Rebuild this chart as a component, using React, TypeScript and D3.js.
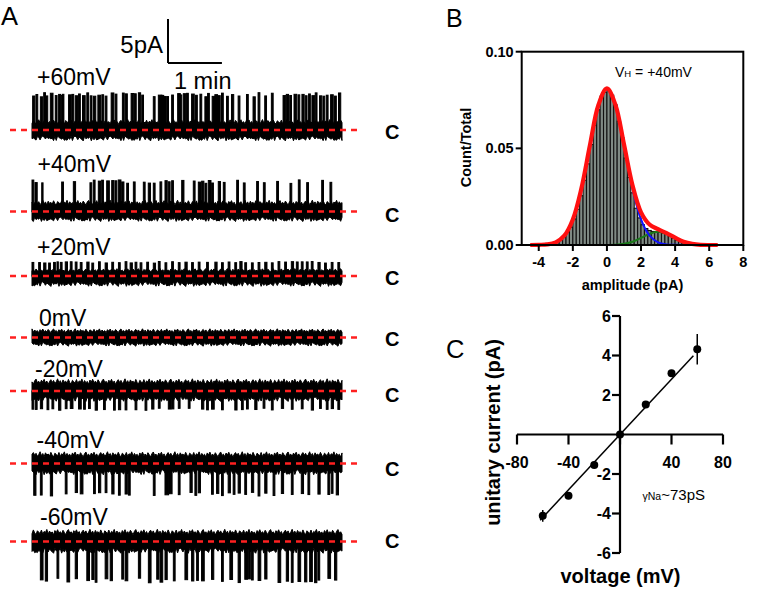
import React from "react";
import * as d3 from "d3";

// ---------------- Panel A : single-channel traces ----------------
const TRACE_LABELS = ["+60mV", "+40mV", "+20mV", "0mV", "-20mV", "-40mV", "-60mV"];
const TRACE_VOLTAGES = [60, 40, 20, 0, -20, -40, -60];
// level reached by the tips of the openings (pA)
const TRACE_PEAK = [4.25, 3.6, 1.65, 0, -2.2, -3.7, -4.7];
// half-width of the closed-state noise band (pA)
const TRACE_NOISE_UP = [1.2, 1.3, 0.85, 1.0, 1.4, 1.35, 1.4];
const TRACE_NOISE_DOWN = [1.25, 1.15, 1.2, 1.0, 1.2, 1.3, 1.35];
const TRACE_DURATION_S = 345;
const SCALE_BAR_PA = 5;
const SCALE_BAR_S = 60;
// closed-state noise pattern (relative)
const NOISE = [0.62, 0.91, 0.74, 0.55, 0.83, 0.97, 0.68, 0.79, 0.58, 0.88, 0.72, 0.95, 0.64, 0.81, 0.53, 0.77, 0.92, 0.69, 0.86, 0.6, 0.75, 0.99, 0.66, 0.84, 0.57, 0.9, 0.71, 0.8, 0.63, 0.94, 0.7, 0.56, 0.87, 0.76, 0.65, 0.93, 0.59, 0.82, 0.73, 0.98, 0.61, 0.85, 0.67, 0.78, 0.54, 0.89, 0.72, 0.96, 0.66, 0.8];

// openings: [time (s), duration (s)]
const EVENTS_P60 = [[0.7, 2.5], [4.4, 2], [9.3, 2.5], [13, 2], [15.5, 2], [20.4, 3], [25.9, 2], [29.6, 2.5], [32.6, 2], [34, 1.5], [40.7, 3], [44.4, 2], [48.1, 2.5], [51.8, 2], [56.2, 3], [61, 2], [64.8, 2], [68.5, 2.5], [73.3, 3], [77.7, 2], [81.4, 2], [88.1, 3], [92.5, 2], [100.6, 2], [103.6, 2.5], [110.3, 3], [114, 2], [118.4, 2.5], [122.1, 2], [135, 2], [140.6, 4], [143.6, 3], [146.2, 3], [149.9, 2], [155.4, 2], [162.1, 3], [164.7, 2], [168.4, 2.5], [172, 2], [177.6, 3], [182, 2], [186.9, 2], [192.4, 3], [195.4, 2], [200.5, 4], [203.5, 3], [206.5, 3], [210.9, 2], [216.5, 2], [222, 2.5], [229.4, 2], [238.7, 2], [246, 2.5], [251.6, 2], [259, 2], [266.4, 2], [279.4, 3], [283, 2.5], [286.8, 2], [291.6, 3], [296, 2], [300.4, 2.5], [304.1, 2], [307.8, 2], [311.5, 3], [315.2, 2], [320, 2.5], [323.8, 2], [327.5, 2], [332.3, 3], [336.7, 2], [341.1, 2.5]];
const EVENTS_P40 = [[0, 2], [3.3, 2.5], [10.8, 1.5], [33, 2], [46, 2.5], [64.5, 2], [68.2, 2], [73.8, 2.5], [77.5, 2], [83.1, 3], [88.7, 2.5], [92.4, 2], [96, 3], [99.8, 2.5], [105.4, 2], [112.8, 2], [123.9, 2], [129.4, 2.5], [135, 2], [142.4, 2], [148, 2.5], [151.7, 2], [155.4, 2], [166.6, 2.5], [179.5, 2], [185.1, 3], [188.8, 2.5], [192.5, 2], [196.2, 3], [199.9, 2], [207.3, 2.5], [212.9, 2], [227.8, 2], [235.2, 2], [250, 2], [257.5, 2], [272.3, 2], [287.1, 2], [296.4, 2], [305.7, 2], [322.4, 2], [331.6, 2]];
const EVENTS_P20 = [[0, 2], [7.4, 2], [13, 2.5], [18.5, 2], [24, 2], [27.8, 1.5], [31.5, 2], [37, 2.5], [42.6, 2], [48.1, 2], [53.7, 2], [61, 2.5], [66.6, 2], [74, 2], [81.4, 2.5], [88.8, 2], [96.2, 2], [103.6, 2], [109.2, 2.5], [114.7, 2], [120.3, 2], [127.7, 2], [135, 2.5], [140.6, 2], [148, 2], [155.4, 2], [162.8, 2], [170.2, 2.5], [177.6, 2], [185, 2], [194.3, 2], [203.5, 2.5], [210.9, 2], [218.3, 2], [225.7, 2], [231.3, 2.5], [236.8, 2], [244.2, 2], [251.6, 2], [259, 2.5], [266.4, 2], [273.8, 2], [281.2, 2], [288.6, 2.5], [294.2, 2], [299.7, 2], [305.3, 2], [310.8, 2], [318.2, 2.5], [325.6, 2], [333, 2], [340.4, 2]];
const EVENTS_0: number[][] = [];
const EVENTS_M20 = [[0, 2], [3.7, 2], [9.3, 2.5], [16.7, 2], [22.2, 2], [29.6, 2.5], [37, 2], [42.6, 3], [51.8, 3], [57.4, 2], [62.9, 2], [70.3, 2.5], [79.6, 2], [90.7, 2], [96.2, 2.5], [103.6, 2], [114.7, 2], [125.8, 2], [133.2, 2.5], [140.6, 2], [151.7, 3], [155.4, 2.5], [162.8, 2], [173.9, 2], [188.7, 2.5], [194.3, 2], [199.8, 3], [210.9, 2], [225.7, 2.5], [233.1, 2], [238.7, 2], [247.9, 2.5], [257.2, 2], [266.4, 2], [277.5, 2.5], [288.6, 2], [299.7, 2], [310.8, 2.5], [320, 2], [327.5, 2], [333, 2.5], [340.4, 2]];
const EVENTS_M40 = [[1.9, 2.5], [9.3, 2], [20.4, 2.5], [37, 2], [48.1, 2.5], [53.7, 3], [68.5, 2], [74, 2.5], [81.4, 2], [88.8, 2.5], [96.2, 2], [103.6, 2.5], [107.3, 2], [135, 2], [148, 4], [152.4, 3.5], [162.8, 2], [175.8, 2.5], [181.3, 2], [185, 2.5], [199.8, 2], [205.4, 2.5], [210.9, 2], [218.3, 2.5], [223.9, 2], [229.4, 2.5], [236.8, 2], [244.2, 2.5], [251.6, 2], [259, 2.5], [268.3, 2], [277.5, 2.5], [288.6, 2], [299.7, 2.5], [307.1, 2], [318.2, 2.5], [329.3, 2], [333, 2], [338.6, 2.5]];
const EVENTS_M60 = [[9.3, 3], [14.8, 2.5], [27.8, 2], [38.9, 3], [48.1, 2.5], [61, 3], [66.6, 2.5], [70.3, 2], [81.4, 3], [87, 2.5], [99.9, 2], [103.6, 3], [118.4, 2.5], [129.5, 3], [138.8, 2.5], [142.5, 3], [148, 2.5], [157.3, 2], [170.2, 3], [177.6, 2.5], [183.2, 2], [188.7, 3], [199.8, 2.5], [210.9, 2], [220.2, 3], [229.4, 2.5], [236.8, 3], [240.5, 2.5], [244.2, 2], [251.6, 3], [259, 2.5], [273.8, 3], [283, 2.5], [288.6, 2], [296, 3], [303.4, 2.5], [309, 3], [314.5, 2.5], [318.2, 2], [329.3, 3], [336.7, 2.5]];
const TRACE_EVENTS = [EVENTS_P60, EVENTS_P40, EVENTS_P20, EVENTS_0, EVENTS_M20, EVENTS_M40, EVENTS_M60];

// ---------------- Panel B : amplitude histogram (VH = +40 mV) ----------------
const HIST_BIN_START = -4.4;
const HIST_BIN_WIDTH = 0.2;
const HIST_VALUES = [0.0004, 0.0004, 0.0005, 0.0006, 0.0008, 0.001, 0.0013, 0.0018, 0.0025, 0.004, 0.0065, 0.0092, 0.0135, 0.0185, 0.0255, 0.0335, 0.042, 0.052, 0.062, 0.07, 0.077, 0.079, 0.08, 0.0775, 0.0725, 0.064, 0.0555, 0.045, 0.035, 0.027, 0.019, 0.014, 0.0105, 0.0085, 0.0075, 0.007, 0.0068, 0.0065, 0.006, 0.0055, 0.0045, 0.0035, 0.0025, 0.0018, 0.0012, 0.0008, 0.0006, 0.0004, 0.0003, 0.0003, 0.0002, 0.0002, 0.0002, 0.0002, 0.0002];
const FIT_X = [-4.5, -4, -3.5, -3, -2.5, -2, -1.5, -1, -0.5, 0, 0.5, 1, 1.5, 2, 2.5, 3, 3.5, 4, 4.5, 5, 5.5, 6, 6.5];
const FIT_CLOSED = [0, 0.0001, 0.0003, 0.0014, 0.0048, 0.0132, 0.0292, 0.0515, 0.0724, 0.081, 0.0724, 0.0515, 0.0292, 0.0132, 0.0048, 0.0014, 0.0003, 0.0001, 0, 0, 0, 0, 0];
const FIT_OPEN = [0, 0, 0, 0, 0, 0, 0, 0, 0, 0, 0.0001, 0.0006, 0.0017, 0.0037, 0.0058, 0.0068, 0.0058, 0.0037, 0.0017, 0.0006, 0.0001, 0, 0];
const FIT_SUM = [0, 0.0001, 0.0003, 0.0014, 0.0048, 0.0132, 0.0292, 0.0515, 0.0724, 0.081, 0.0725, 0.0521, 0.0309, 0.0169, 0.0106, 0.0082, 0.0061, 0.0038, 0.0017, 0.0006, 0.0001, 0, 0];
const HIST_X_TICKS = [-4, -2, 0, 2, 4, 6, 8];
const HIST_Y_TICKS = [0, 0.05, 0.1];

// ---------------- Panel C : I-V relation ----------------
const IV_V = [-60, -40, -20, 0, 20, 40, 60];
const IV_I = [-4.12, -3.1, -1.55, 0, 1.52, 3.1, 4.32];
const IV_ERR = [0.3, 0.08, 0.08, 0, 0.08, 0.08, 0.77];
const IV_FIT_V = [-62, 57];
const IV_FIT_I = [-4.34, 3.99];
const IV_X_TICKS = [-80, -40, 40, 80];
const IV_X_TICK_MARKS = [-80, -40, 0, 40, 80];
const IV_Y_TICKS = [-6, -4, -2, 2, 4, 6];

const FONT = "'Liberation Sans', Arial, Helvetica, sans-serif";

export default function App() {
  // ---------- Panel A ----------
  const xT = d3.scaleLinear().domain([0, TRACE_DURATION_S]).range([32, 342]);
  const pxPerPA = 8.8;
  const baselines = [130, 211.5, 276, 337.5, 391, 463.5, 541.5];
  const labelY = [85, 171.5, 254.5, 326, 376.5, 448, 525];
  const labelX = [37, 37.5, 37, 39, 35, 36.5, 40];
  const cLabelY = [138.5, 221.5, 285, 346, 402, 476, 548];

  const traces = TRACE_LABELS.map((lab, k) => {
    const base = baselines[k];
    const yS = d3.scaleLinear().domain([-1, 1]).range([base + pxPerPA, base - pxPerPA]);
    const steps = d3.range(0, TRACE_DURATION_S + 0.001, 1.5);
    const band = d3
      .area<number>()
      .x((t) => xT(t))
      .y0((t, i) => yS(-TRACE_NOISE_DOWN[k] * NOISE[(i * 3 + 7 + k * 11) % NOISE.length]))
      .y1((t, i) => yS(TRACE_NOISE_UP[k] * NOISE[(i + 13 * k) % NOISE.length]))(steps);
    const peak = TRACE_PEAK[k];
    const rects = TRACE_EVENTS[k].map(([t, d], j) => {
      const tip = peak * (0.76 + 0.24 * NOISE[(j * 7 + k * 5) % NOISE.length]);
      const y0 = yS(0);
      const y1 = yS(tip);
      const x0 = xT(t);
      const w = Math.max(1.3, xT(t + d) - xT(t));
      return (
        <rect key={j} x={x0} width={w} y={Math.min(y0, y1)} height={Math.abs(y1 - y0)} fill="#000" stroke="#000" strokeWidth={1} />
      );
    });
    return (
      <g key={lab}>
        <path d={band || ""} fill="#000" stroke="#000" strokeWidth={1} />
        {rects}
        <line x1={10} x2={358} y1={yS(0)} y2={yS(0)} stroke="#ff2020" strokeWidth={2.4} strokeDasharray="6,5" />
        <text x={labelX[k]} y={labelY[k]} fontSize={23} fontFamily={FONT} fill="#000">{lab}</text>
        <text x={385} y={cLabelY[k]} fontSize={20} fontWeight="bold" fontFamily={FONT} fill="#000">C</text>
      </g>
    );
  });

  const sbX = 168;
  const sbY = 63;
  const sbH = SCALE_BAR_PA * pxPerPA;
  const sbW = xT(SCALE_BAR_S) - xT(0);

  // ---------- Panel B ----------
  const xB = d3.scaleLinear().domain([-5, 8]).range([521.7, 743.3]);
  const yB = d3.scaleLinear().domain([0, 0.1]).range([245, 51.7]);
  const fitLine = (ys: number[]) =>
    d3
      .line<number>()
      .x((_, i) => xB(FIT_X[i]))
      .y((v) => yB(v))
      .curve(d3.curveCatmullRom)(ys) || "";

  // ---------- Panel C ----------
  const xC = d3.scaleLinear().domain([-80, 80]).range([517, 723]);
  const yC = d3.scaleLinear().domain([-6, 6]).range([553, 316]);

  return (
    <svg
      width={765}
      height={606}
      viewBox="0 0 765 606"
      style={{ position: "absolute", left: 0, top: 0, display: "block", background: "#fff" }}
    >
      <rect x={0} y={0} width={765} height={606} fill="#fff" />
      {/* Panel A */}
      <text x={1} y={25} fontSize={25.5} fontFamily={FONT}>A</text>
      <line x1={sbX} x2={sbX} y1={sbY - sbH} y2={sbY} stroke="#000" strokeWidth={2} />
      <line x1={sbX} x2={sbX + sbW} y1={sbY} y2={sbY} stroke="#000" strokeWidth={2} />
      <text x={163} y={53} fontSize={24} fontFamily={FONT} textAnchor="end">{SCALE_BAR_PA}pA</text>
      <text x={174} y={88.5} fontSize={23.5} fontFamily={FONT}>{SCALE_BAR_S / 60} min</text>
      {traces}

      {/* Panel B */}
      <text x={446} y={27} fontSize={25} fontFamily={FONT}>B</text>
      <g>
        {HIST_VALUES.map((v, i) => {
          const c0 = HIST_BIN_START + i * HIST_BIN_WIDTH;
          const x0 = xB(c0);
          const x1 = xB(c0 + HIST_BIN_WIDTH);
          return (
            <rect key={i} x={x0} width={x1 - x0} y={yB(v)} height={yB(0) - yB(v)} fill="#7f8a84" stroke="#111" strokeWidth={1.1} />
          );
        })}
        <path d={fitLine(FIT_OPEN)} fill="none" stroke="#1b7a1b" strokeWidth={2} />
        <path d={fitLine(FIT_CLOSED)} fill="none" stroke="#1010ff" strokeWidth={2} />
        <path d={fitLine(FIT_SUM)} fill="none" stroke="#ff1010" strokeWidth={4.2} strokeLinejoin="round" />
        <rect x={xB(-5)} y={yB(0.1)} width={xB(8) - xB(-5)} height={yB(0) - yB(0.1)} fill="none" stroke="#000" strokeWidth={2} />
        {HIST_Y_TICKS.map((t) => (
          <g key={t}>
            <line x1={xB(-5) - 6} x2={xB(-5)} y1={yB(t)} y2={yB(t)} stroke="#000" strokeWidth={2} />
            <text x={xB(-5) - 8} y={yB(t) + 5} fontSize={14.5} fontWeight="bold" fontFamily={FONT} textAnchor="end">
              {t.toFixed(2)}
            </text>
          </g>
        ))}
        {HIST_X_TICKS.map((t) => (
          <g key={t}>
            <line x1={xB(t)} x2={xB(t)} y1={yB(0)} y2={yB(0) + 6} stroke="#000" strokeWidth={2} />
            <text x={xB(t)} y={267} fontSize={14.5} fontWeight="bold" fontFamily={FONT} textAnchor="middle">
              {t}
            </text>
          </g>
        ))}
        <text x={632.5} y={290} fontSize={14.5} fontWeight="bold" fontFamily={FONT} textAnchor="middle">amplitude (pA)</text>
        <text transform="translate(471,147.5) rotate(-90)" fontSize={14.5} fontWeight="bold" fontFamily={FONT} textAnchor="middle">Count/Total</text>
        <text x={615} y={77} fontSize={14} fontFamily={FONT}>
          V<tspan fontSize={9.5}>H</tspan> = +40mV
        </text>
      </g>

      {/* Panel C */}
      <text x={446} y={358} fontSize={25.5} fontFamily={FONT}>C</text>
      <g>
        <line x1={xC(-80)} x2={xC(80)} y1={yC(0)} y2={yC(0)} stroke="#000" strokeWidth={2.2} />
        <line x1={xC(0)} x2={xC(0)} y1={yC(-6)} y2={yC(6)} stroke="#000" strokeWidth={2.2} />
        {IV_X_TICK_MARKS.map((t) => (
          <line key={t} x1={xC(t)} x2={xC(t)} y1={yC(0)} y2={yC(0) + 10} stroke="#000" strokeWidth={2.2} />
        ))}
        {IV_X_TICKS.map((t) => (
          <text key={t} x={xC(t)} y={468} fontSize={16} fontWeight="bold" fontFamily={FONT} textAnchor="middle">{t}</text>
        ))}
        {IV_Y_TICKS.map((t) => (
          <g key={t}>
            <line x1={xC(0) - 8} x2={xC(0)} y1={yC(t)} y2={yC(t)} stroke="#000" strokeWidth={2.2} />
            <text x={xC(0) - 9} y={yC(t) + 5.5} fontSize={16} fontWeight="bold" fontFamily={FONT} textAnchor="end">{t}</text>
          </g>
        ))}
        <line x1={xC(IV_FIT_V[0])} x2={xC(IV_FIT_V[1])} y1={yC(IV_FIT_I[0])} y2={yC(IV_FIT_I[1])} stroke="#000" strokeWidth={1.5} />
        {IV_V.map((v, i) => (
          <g key={v}>
            {IV_ERR[i] > 0 && (
              <line x1={xC(v)} x2={xC(v)} y1={yC(IV_I[i] - IV_ERR[i])} y2={yC(IV_I[i] + IV_ERR[i])} stroke="#000" strokeWidth={1.5} />
            )}
            <circle cx={xC(v)} cy={yC(IV_I[i])} r={4} fill="#000" />
          </g>
        ))}
        <text x={642.5} y={500} fontFamily={FONT} fill="#000">
          <tspan fontSize={10.5}>γNa</tspan>
          <tspan fontSize={15}>~73pS</tspan>
        </text>
        <text transform="translate(499.5,432.5) rotate(-90)" fontSize={20} fontWeight="bold" fontFamily={FONT} textAnchor="middle">unitary current (pA)</text>
        <text x={620.5} y={583} fontSize={20} fontWeight="bold" fontFamily={FONT} textAnchor="middle">voltage (mV)</text>
      </g>
    </svg>
  );
}
